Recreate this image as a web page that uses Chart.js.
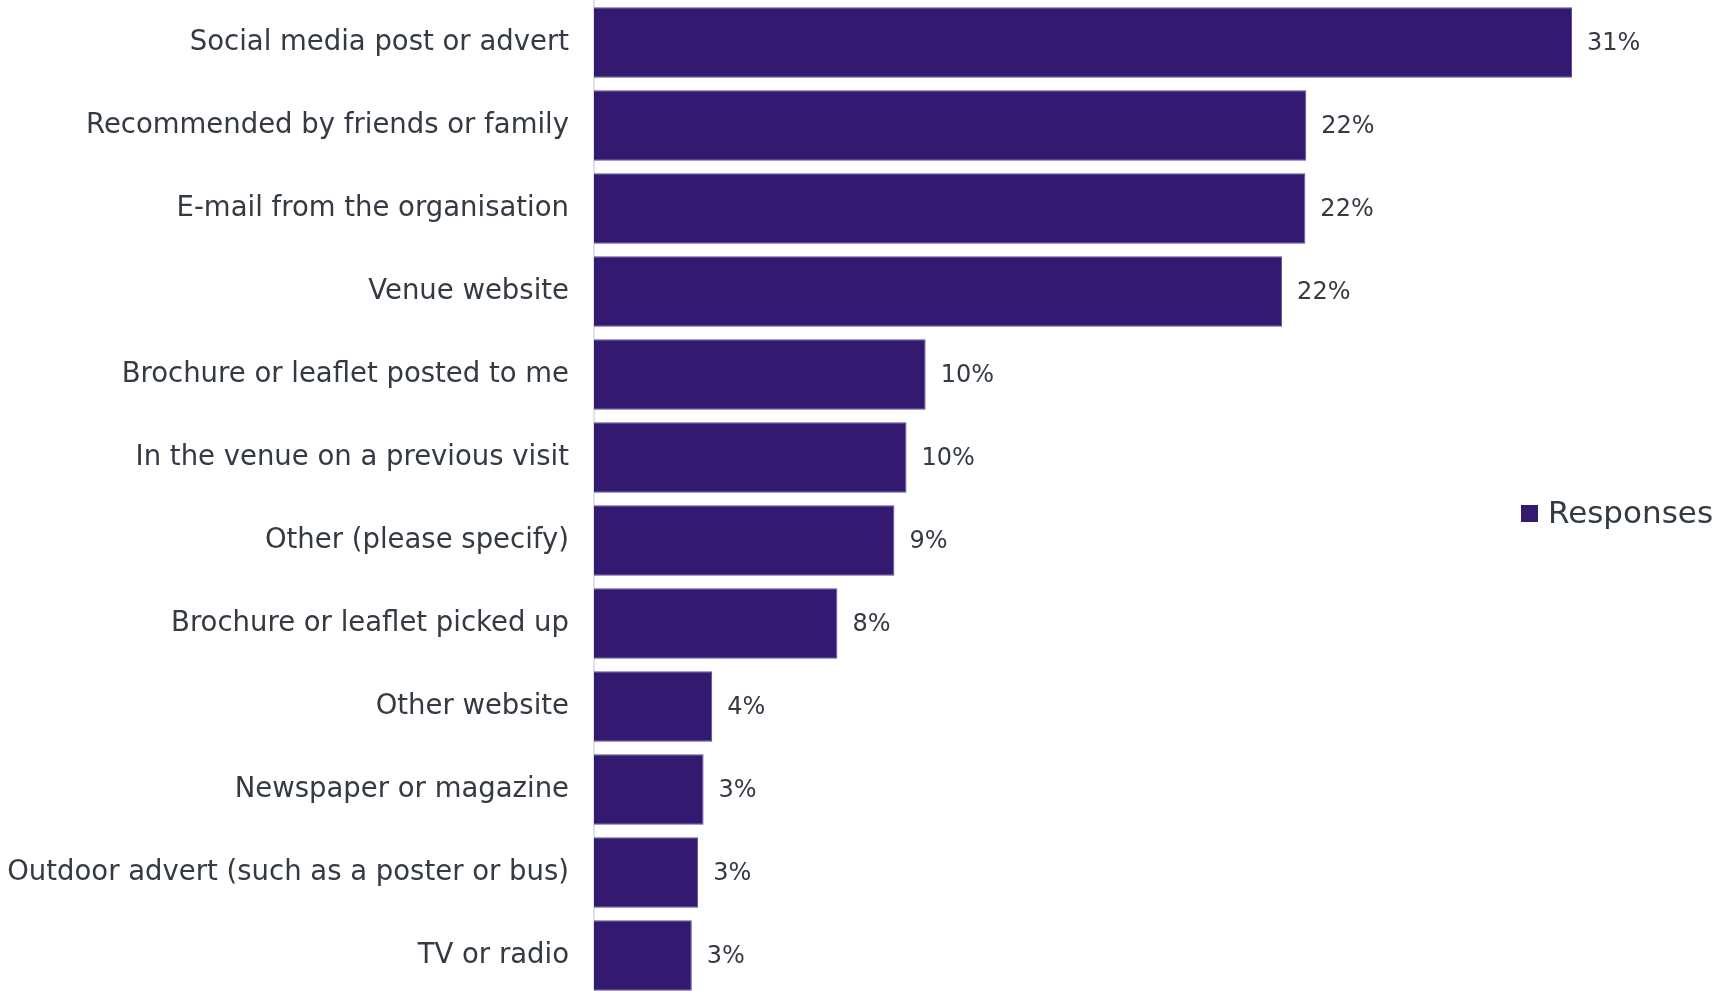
<!DOCTYPE html>
<html>
<head>
<meta charset="utf-8">
<script src="https://cdn.jsdelivr.net/npm/chart.js@4"></script>
<style>
  html, body { margin: 0; padding: 0; background: #ffffff; overflow: hidden; }
  #wrap { position: relative; width: 1718px; height: 1000px; }
  canvas { display: block; }
</style>
</head>
<body>
<div id="wrap"><canvas id="chart" width="1718" height="1000"></canvas></div>
<script>
// How visitors heard about the event (share of responses, %)
const categories = [
  'Social media post or advert',
  'Recommended by friends or family',
  'E-mail from the organisation',
  'Venue website',
  'Brochure or leaflet posted to me',
  'In the venue on a previous visit',
  'Other (please specify)',
  'Brochure or leaflet picked up',
  'Other website',
  'Newspaper or magazine',
  'Outdoor advert (such as a poster or bus)',
  'TV or radio'
];
const responses = [30.7, 22.36, 22.33, 21.6, 10.41, 9.81, 9.43, 7.64, 3.71, 3.44, 3.27, 3.07];
const seriesName = 'Responses';

const FONT = '"DejaVu Sans", "Noto Sans", sans-serif';
const TEXT = '#343a42';
const BAR = '#331970';
const AXIS_LEFT = 594;

// Percentage labels to the right of each bar
const valueLabels = {
  id: 'valueLabels',
  afterDatasetsDraw(chart) {
    const ctx = chart.ctx;
    const meta = chart.getDatasetMeta(0);
    const data = chart.data.datasets[0].data;
    ctx.save();
    ctx.font = '24px ' + FONT;
    ctx.fillStyle = TEXT;
    ctx.textAlign = 'left';
    ctx.textBaseline = 'middle';
    meta.data.forEach((bar, i) => {
      ctx.fillText(Math.round(data[i]) + '%', bar.x + 15, bar.y + 1);
    });
    ctx.restore();
  }
};

// Series key placed at the right, vertically centred
const sideLegend = {
  id: 'sideLegend',
  afterDraw(chart) {
    const ctx = chart.ctx;
    const ds = chart.data.datasets[0];
    const x = chart.width - 197;
    const y = 514;
    ctx.save();
    ctx.fillStyle = ds.backgroundColor;
    ctx.fillRect(x, y - 9, 17, 17);
    ctx.font = '31px ' + FONT;
    ctx.fillStyle = TEXT;
    ctx.textAlign = 'left';
    ctx.textBaseline = 'middle';
    ctx.fillText(ds.label, x + 27, y + 1);
    ctx.restore();
  }
};

new Chart(document.getElementById('chart'), {
  type: 'bar',
  data: {
    labels: categories,
    datasets: [{
      label: seriesName,
      data: responses,
      backgroundColor: BAR,
      borderColor: '#5e4d9e',
      borderWidth: 1,
      barPercentage: 0.847,
      categoryPercentage: 1
    }]
  },
  options: {
    indexAxis: 'y',
    responsive: false,
    animation: false,
    devicePixelRatio: 1,
    layout: { padding: { top: 1, bottom: 3, left: 0, right: 9 } },
    plugins: {
      legend: { display: false },
      tooltip: { enabled: false }
    },
    scales: {
      x: {
        display: false,
        min: 0,
        max: 35
      },
      y: {
        grid: { display: false, drawTicks: false },
        border: { display: true, color: '#dde1e8', width: 2 },
        ticks: {
          color: TEXT,
          font: { family: FONT, size: 27.5 },
          padding: 25,
          autoSkip: false
        },
        afterFit(scale) {
          scale.width = AXIS_LEFT;
          scale.paddingTop = 0;
          scale.paddingBottom = 0;
        }
      }
    }
  },
  plugins: [valueLabels, sideLegend]
});
</script>
</body>
</html>
